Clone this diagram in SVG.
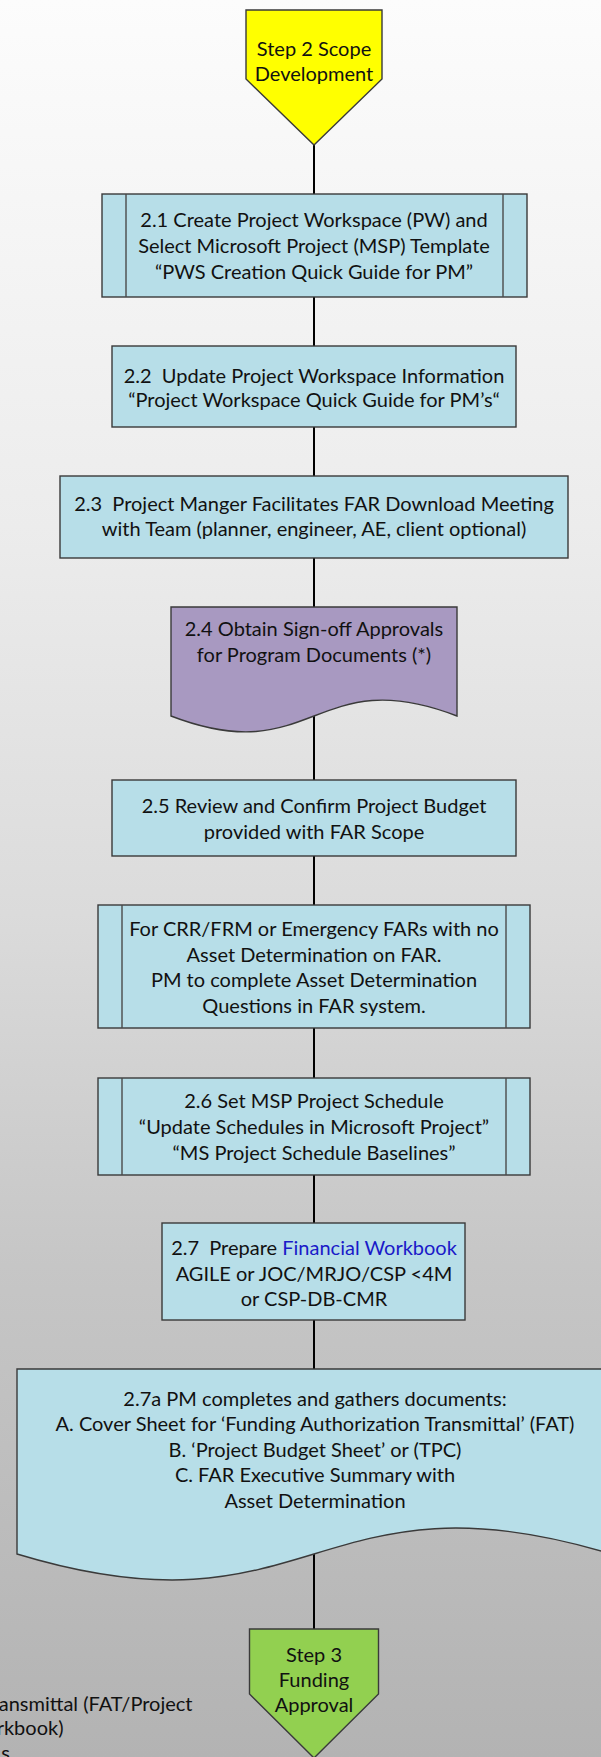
<svg xmlns="http://www.w3.org/2000/svg" width="601" height="1757" viewBox="0 0 601 1757">
<defs>
<linearGradient id="bg" x1="0" y1="0" x2="0" y2="1757" gradientUnits="userSpaceOnUse">
<stop offset="0" stop-color="#FCFCFC"/>
<stop offset="0.3" stop-color="#ECECEC"/>
<stop offset="0.52" stop-color="#DBDBDB"/>
<stop offset="0.72" stop-color="#C6C6C6"/>
<stop offset="1" stop-color="#B3B3B3"/>
</linearGradient>
<style>
.box{fill:#B7DEE8;stroke:#3A3A3A;stroke-width:1.4}
.inner{stroke:#4A4A4A;stroke-width:1.4;fill:none}
.conn{stroke:#000;stroke-width:2;fill:none}
.t{font-family:Lato,"Liberation Sans",sans-serif;font-size:20px;fill:#111;text-anchor:middle;white-space:pre}
.link{fill:#1A1AC8}
</style>
</defs>
<rect x="0" y="0" width="601" height="1757" fill="url(#bg)"/>

<g id="connectors">
<line class="conn" x1="314" y1="145" x2="314" y2="194"/>
<line class="conn" x1="314" y1="297" x2="314" y2="346"/>
<line class="conn" x1="314" y1="427" x2="314" y2="476"/>
<line class="conn" x1="314" y1="558" x2="314" y2="607"/>
<line class="conn" x1="314" y1="716" x2="314" y2="780"/>
<line class="conn" x1="314" y1="856" x2="314" y2="905"/>
<line class="conn" x1="314" y1="1028" x2="314" y2="1078"/>
<line class="conn" x1="314" y1="1175" x2="314" y2="1223"/>
<line class="conn" x1="314" y1="1320" x2="314" y2="1369"/>
<line class="conn" x1="314" y1="1554" x2="314" y2="1629"/>
</g>

<g id="step2">
<polygon points="246,10 382,10 382,79 314,145 246,79" fill="#FFFF00" stroke="#3A3A3A" stroke-width="1.4"/>
<text class="t" x="314" y="55.5">Step 2 Scope</text>
<text class="t" x="314" y="81">Development</text>
</g>

<g id="n2_1">
<rect class="box" x="102" y="194" width="425" height="103"/>
<line class="inner" x1="126" y1="194" x2="126" y2="297"/>
<line class="inner" x1="503" y1="194" x2="503" y2="297"/>
<text class="t" x="314" y="227">2.1 Create Project Workspace (PW) and</text>
<text class="t" x="314" y="253">Select Microsoft Project (MSP) Template</text>
<text class="t" x="314" y="279">“PWS Creation Quick Guide for PM”</text>
</g>

<g id="n2_2">
<rect class="box" x="112" y="346" width="404" height="81"/>
<text class="t" x="314" y="382.5" xml:space="preserve">2.2  Update Project Workspace Information</text>
<text class="t" x="314" y="407">“Project Workspace Quick Guide for PM’s“</text>
</g>

<g id="n2_3">
<rect class="box" x="60" y="476" width="508" height="82"/>
<text class="t" x="314" y="511" xml:space="preserve">2.3  Project Manger Facilitates FAR Download Meeting</text>
<text class="t" x="314" y="536">with Team (planner, engineer, AE, client optional)</text>
</g>

<g id="n2_4">
<path d="M171,607 L457,607 L457,716 C314,661 314,771 171,716 Z" fill="#A899C1" stroke="#3A3A3A" stroke-width="1.4"/>
<text class="t" x="314" y="635.5">2.4 Obtain Sign-off Approvals</text>
<text class="t" x="314" y="661.5">for Program Documents (*)</text>
</g>

<g id="n2_5">
<rect class="box" x="112" y="780" width="404" height="76"/>
<text class="t" x="314" y="812.5">2.5 Review and Confirm Project Budget</text>
<text class="t" x="314" y="838.5">provided with FAR Scope</text>
</g>

<g id="n_crr">
<rect class="box" x="98" y="905" width="432" height="123"/>
<line class="inner" x1="122" y1="905" x2="122" y2="1028"/>
<line class="inner" x1="506" y1="905" x2="506" y2="1028"/>
<text class="t" x="314" y="935.5">For CRR/FRM or Emergency FARs with no</text>
<text class="t" x="314" y="961.5">Asset Determination on FAR.</text>
<text class="t" x="314" y="987">PM to complete Asset Determination</text>
<text class="t" x="314" y="1012.5">Questions in FAR system.</text>
</g>

<g id="n2_6">
<rect class="box" x="98" y="1078" width="432" height="97"/>
<line class="inner" x1="122" y1="1078" x2="122" y2="1175"/>
<line class="inner" x1="506" y1="1078" x2="506" y2="1175"/>
<text class="t" x="314" y="1107.5">2.6 Set MSP Project Schedule</text>
<text class="t" x="314" y="1133.5">“Update Schedules in Microsoft Project”</text>
<text class="t" x="314" y="1159.5">“MS Project Schedule Baselines”</text>
</g>

<g id="n2_7">
<rect class="box" x="162" y="1223" width="303" height="97"/>
<text class="t" x="314" y="1255" xml:space="preserve">2.7  Prepare <tspan class="link">Financial Workbook</tspan></text>
<text class="t" x="314" y="1280.5">AGILE or JOC/MRJO/CSP &lt;4M</text>
<text class="t" x="314" y="1305.5">or CSP-DB-CMR</text>
</g>

<g id="n2_7a">
<path d="M17,1369 L611,1369 L611,1554 C314,1464 314,1644 17,1554 Z" class="box"/>
<text class="t" x="315" y="1405.5">2.7a PM completes and gathers documents:</text>
<text class="t" x="315" y="1431">A. Cover Sheet for ‘Funding Authorization Transmittal’ (FAT)</text>
<text class="t" x="315" y="1456.5">B. ‘Project Budget Sheet’ or (TPC)</text>
<text class="t" x="315" y="1482">C. FAR Executive Summary with</text>
<text class="t" x="315" y="1507.5">Asset Determination</text>
</g>

<g id="step3">
<polygon points="249.5,1629 378.5,1629 378.5,1694 314,1758 249.5,1694" fill="#92D050" stroke="#3A3A3A" stroke-width="1.4"/>
<text class="t" x="314" y="1661.5">Step 3</text>
<text class="t" x="314" y="1686.5">Funding</text>
<text class="t" x="314" y="1712">Approval</text>
</g>

<g id="note">
<text class="t" style="text-anchor:end" x="192.5" y="1710.5">ansmittal (FAT/Project</text>
<text class="t" style="text-anchor:end" x="63.5" y="1735">rkbook)</text>
<text class="t" style="text-anchor:end" x="10" y="1760">s</text>
</g>
</svg>
